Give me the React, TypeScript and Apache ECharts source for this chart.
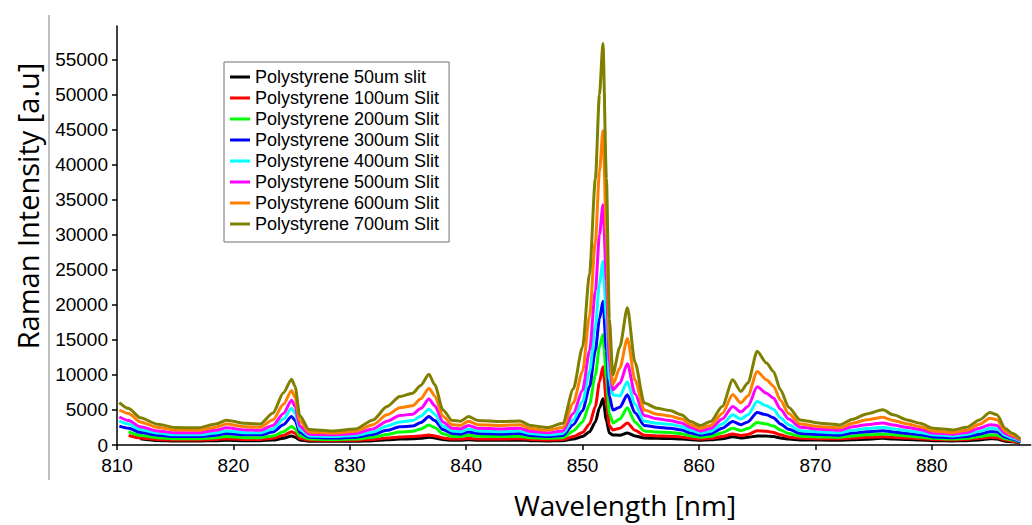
import React, { useEffect, useRef } from "react";
import * as echarts from "echarts";

// Wavelength sample positions [nm]
const wavelengths = [
  810.2, 811, 812, 813.5, 815, 817, 818.5, 819.4, 821, 822.3,
  823.4, 824.3, 825.0, 825.3, 825.7, 826.5, 828.5, 830.5, 832, 833.2,
  834.3, 835.4, 836.1, 836.8, 837.3, 838, 838.8, 839.5, 840.2, 841,
  843, 844.6, 845.5, 847, 848.3, 849.2, 850, 850.6, 851.1, 851.45,
  851.75, 852.05, 852.3, 852.6, 853.2, 853.85, 854.5, 855.3, 856.4, 857.5,
  858.5, 859.3, 860.1, 861, 862, 862.9, 863.6, 864.2, 865.0, 865.8,
  866.4, 867, 867.7, 868.7, 870.4, 872.1, 873.2, 874.4, 875.8, 876.7,
  877.9, 879, 880.1, 881.8, 883, 884.1, 885, 885.6, 886.3, 886.9, 887.6,
];

const slit50 = [
  null, null, 900, 650, 570, 570, 620, 680, 620, 620,
  700, 950, 1290, 1100, 700, 550, 530, 550, 620, 750,
  850, 880, 950, 1100, 1000, 780, 680, 680, 750, 680,
  680, 700, 620, 580, 620, 850, 1200, 1900, 3300, 5300,
  6600, 3500, 1700, 1430, 1400, 1720, 1300, 1000, 950, 920,
  870, 750, 680, 750, 900, 1190, 1000, 1100, 1290, 1280,
  1200, 1000, 850, 720, 700, 680, 750, 830, 960, 850,
  780, 700, 620, 580, 620, 720, 900, 850, 550, 450, 300,
];
const slit100 = [
  null, 1350, 1000, 800, 720, 720, 800, 900, 800, 800,
  950, 1350, 1900, 1650, 950, 680, 650, 680, 800, 1000,
  1150, 1200, 1300, 1430, 1300, 1000, 850, 850, 950, 850,
  850, 900, 780, 720, 780, 1200, 1800, 3000, 5500, 9000,
  11180, 6000, 2800, 2150, 2400, 3150, 2100, 1400, 1300, 1250,
  1150, 950, 850, 950, 1200, 1580, 1350, 1500, 2050, 1950,
  1800, 1450, 1150, 950, 900, 880, 1000, 1100, 1190, 1100,
  1000, 900, 780, 720, 800, 950, 1100, 1050, 700, 550, 350,
];
const slit200 = [
  null, 1900, 1350, 1050, 900, 900, 1050, 1200, 1050, 1050,
  1300, 1900, 2630, 2300, 1300, 850, 800, 850, 1100, 1500,
  1850, 1950, 2300, 2870, 2500, 1600, 1250, 1200, 1400, 1250,
  1200, 1250, 1050, 950, 1050, 2000, 3300, 5800, 10000, 14000,
  15760, 9500, 4500, 3150, 3700, 5300, 3300, 2000, 1850, 1800,
  1600, 1300, 1100, 1250, 1750, 2390, 2050, 2350, 3200, 3000,
  2700, 2150, 1650, 1250, 1150, 1100, 1300, 1450, 1580, 1450,
  1300, 1150, 950, 850, 950, 1200, 1430, 1400, 900, 700, 400,
];
const slit300 = [
  2700, 2400, 1800, 1400, 1200, 1200, 1400, 1650, 1450, 1450,
  1850, 2900, 4060, 3500, 1800, 1100, 1000, 1100, 1500, 2100,
  2600, 2700, 3200, 4060, 3500, 2200, 1650, 1550, 1850, 1650,
  1550, 1650, 1350, 1200, 1350, 2900, 4900, 8300, 13500, 18000,
  20500, 13500, 7000, 5000, 5400, 7160, 4600, 2800, 2550, 2400,
  2150, 1700, 1400, 1600, 2400, 3340, 2900, 3300, 4630, 4300,
  3900, 3000, 2250, 1650, 1500, 1400, 1700, 1900, 2050, 1850,
  1650, 1450, 1150, 1050, 1200, 1550, 1900, 1850, 1150, 850, 450,
];
const slit400 = [
  3400, 3000, 2200, 1700, 1450, 1450, 1700, 2000, 1750, 1750,
  2300, 3700, 5250, 4500, 2200, 1300, 1200, 1350, 1850, 2700,
  3300, 3500, 4100, 5100, 4400, 2700, 2000, 1900, 2300, 2000,
  1900, 2000, 1650, 1450, 1650, 3600, 6200, 10500, 17000, 23000,
  26200, 18000, 9500, 7160, 7000, 9030, 5800, 3400, 3100, 2950,
  2650, 2100, 1700, 1950, 3000, 4300, 3700, 4300, 6200, 5600,
  5100, 3900, 2900, 2050, 1850, 1750, 2100, 2350, 2530, 2300,
  2050, 1800, 1450, 1300, 1500, 1950, 2390, 2300, 1400, 1000, 550,
];
const slit500 = [
  4000, 3500, 2600, 2000, 1750, 1750, 2100, 2450, 2150, 2100,
  2800, 4500, 6400, 5500, 2700, 1550, 1450, 1650, 2300, 3400,
  4200, 4400, 5200, 6550, 5600, 3300, 2400, 2300, 2800, 2400,
  2300, 2400, 1950, 1750, 2000, 4500, 7800, 13500, 22000, 30000,
  34250, 23500, 12000, 7880, 8800, 11600, 7300, 4200, 3750, 3500,
  3150, 2500, 2000, 2350, 3700, 5500, 4700, 5500, 8300, 7400,
  6700, 5100, 3700, 2550, 2250, 2100, 2600, 2900, 3150, 2850,
  2500, 2200, 1700, 1550, 1800, 2400, 2900, 2800, 1650, 1200, 650,
];
const slit600 = [
  5000, 4500, 3300, 2500, 2150, 2100, 2550, 3000, 2600, 2550,
  3600, 5800, 7780, 6800, 3500, 1850, 1700, 1950, 2900, 4300,
  5300, 5600, 6600, 8100, 7000, 4100, 2900, 2800, 3400, 2900,
  2800, 2900, 2350, 2100, 2500, 6000, 10500, 18500, 29000, 39000,
  44850, 30000, 14500, 8600, 11000, 15190, 9300, 5000, 4400, 4150,
  3700, 2900, 2350, 2800, 4500, 7200, 6000, 7000, 10500, 9300,
  8400, 6400, 4500, 3000, 2600, 2450, 3100, 3600, 3970, 3500,
  3000, 2600, 2000, 1800, 2100, 2950, 3820, 3600, 2000, 1400, 750,
];
const slit700 = [
  6060, 5200, 3900, 2950, 2500, 2450, 3000, 3550, 3100, 3000,
  4580, 7450, 9400, 8360, 4200, 2200, 2000, 2300, 3580, 5490,
  6920, 7400, 8500, 10100, 8600, 5000, 3500, 3400, 4060, 3500,
  3350, 3440, 2800, 2480, 3110, 8000, 14000, 24500, 38000, 50000,
  57300, 38000, 18000, 10030, 14000, 19600, 11800, 6000, 5250, 4920,
  4300, 3340, 2770, 3340, 5500, 9310, 7640, 8840, 13370, 11700,
  10500, 7880, 5400, 3580, 3110, 2870, 3680, 4440, 5015, 4300,
  3580, 3110, 2390, 2150, 2530, 3580, 4630, 4300, 2390, 1680, 860,
];

const seriesNames = [
  "Polystyrene 50um slit",
  "Polystyrene 100um Slit",
  "Polystyrene 200um Slit",
  "Polystyrene 300um Slit",
  "Polystyrene 400um Slit",
  "Polystyrene 500um Slit",
  "Polystyrene 600um Slit",
  "Polystyrene 700um Slit",
];
const seriesValues = [slit50, slit100, slit200, slit300, slit400, slit500, slit600, slit700];
const seriesColors = ["#000000", "#ff0000", "#00ff00", "#0000ff", "#00ffff", "#ff00ff", "#ff8000", "#808000"];

const xMin = 810;
const xMax = 888.5;
const xInterval = 10;
const yMin = 0;
const yMax = 59800;
const yInterval = 5000;

const xTitle = "Wavelength [nm]";
const yTitle = "Raman Intensity [a.u]";

export default function App() {
  const ref = useRef<HTMLDivElement>(null);

  useEffect(() => {
    if (!ref.current) return;
    const chart = echarts.init(ref.current, undefined, { renderer: "svg" });
    const labelFont = "'Liberation Sans', Arial, sans-serif";
    const titleFont = "'Open Sans', 'Noto Sans', sans-serif";

    chart.setOption({
      animation: false,
      backgroundColor: "#ffffff",
      grid: { left: 117, top: 26, width: 913.7, height: 419 },
      xAxis: {
        type: "value",
        min: xMin,
        max: xMax,
        interval: xInterval,
        axisLine: { show: true, onZero: false, lineStyle: { color: "#000", width: 1.5 } },
        axisTick: { show: true, length: 5, lineStyle: { color: "#000", width: 1.5 } },
        axisLabel: {
          color: "#000",
          fontSize: 19,
          fontFamily: labelFont,
          margin: 11,
          showMaxLabel: false,
          formatter: (v: number) => String(v),
        },
        splitLine: { show: false },
      },
      yAxis: {
        type: "value",
        min: yMin,
        max: yMax,
        interval: yInterval,
        axisLine: { show: true, lineStyle: { color: "#000", width: 1.5 } },
        axisTick: { show: true, length: 5, lineStyle: { color: "#000", width: 1.5 } },
        axisLabel: {
          color: "#000",
          fontSize: 19,
          fontFamily: labelFont,
          margin: 9,
          showMaxLabel: false,
          formatter: (v: number) => String(v),
        },
        splitLine: { show: false },
      },
      legend: {
        left: 224,
        top: 62,
        orient: "vertical",
        icon: "rect",
        itemWidth: 20,
        itemHeight: 3,
        itemGap: 3,
        padding: [6, 10, 9, 6],
        borderColor: "#707070",
        borderWidth: 1,
        backgroundColor: "#ffffff",
        textStyle: { color: "#000", fontSize: 18, lineHeight: 18, fontFamily: labelFont },
        data: seriesNames,
      },
      graphic: [
        {
          type: "line",
          shape: { x1: 49, y1: 15, x2: 49, y2: 480 },
          style: { stroke: "#c0c0c0", lineWidth: 2 },
        },
        {
          type: "text",
          x: 27,
          y: 206,
          rotation: Math.PI / 2,
          style: {
            text: yTitle,
            fontSize: 29,
            fontFamily: titleFont,
            fill: "#000",
            align: "center",
            verticalAlign: "middle",
          },
        },
        {
          type: "text",
          x: 625,
          y: 505,
          style: {
            text: xTitle,
            fontSize: 28,
            fontFamily: titleFont,
            fill: "#000",
            align: "center",
            verticalAlign: "middle",
          },
        },
      ],
      series: seriesNames.map((name, i) => ({
        name,
        type: "line",
        data: wavelengths.map((w, j) => [w, seriesValues[i][j]]),
        showSymbol: false,
        symbol: "none",
        smooth: 0.25,
        smoothMonotone: "x",
        connectNulls: false,
        lineStyle: { color: seriesColors[i], width: 3 },
        itemStyle: { color: seriesColors[i] },
        z: 2 + i,
      })),
    });

    return () => chart.dispose();
  }, []);

  return (
    <div
      ref={ref}
      style={{ position: "fixed", left: 0, top: 0, width: 1032, height: 525, background: "#fff" }}
    />
  );
}
